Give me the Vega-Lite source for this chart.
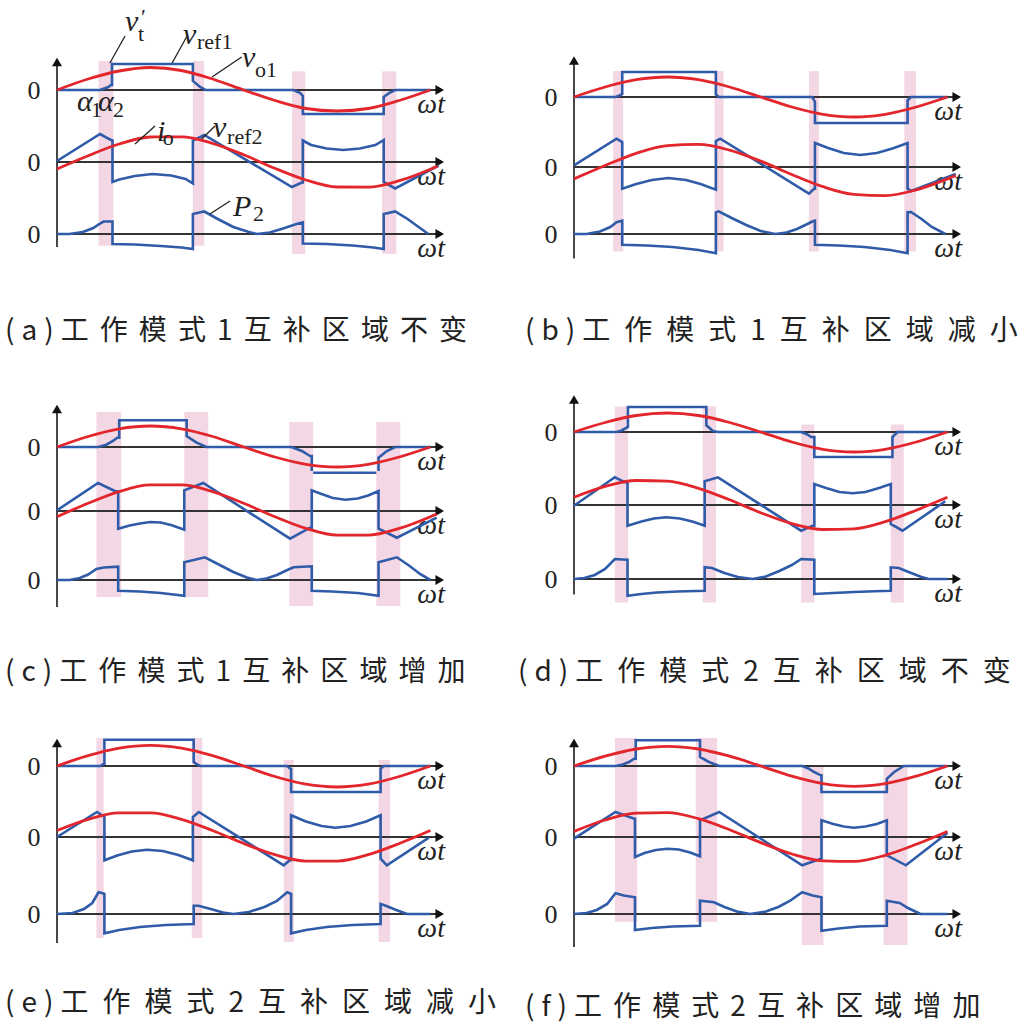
{
"$schema":"https://vega.github.io/schema/vega-lite/v6.json",
"padding":{"left":5,"top":6,"right":5,"bottom":5},
"background":"white",
"config":{"view":{"stroke":null},"axisX":{"disable":true},"axisY":{"domain":false,"ticks":false,"grid":false,"labelFont":"Liberation Serif","labelFontSize":26,"labelPadding":17,"labelColor":"#222"}},
"datasets":{
"a":[{"t":1,"k":"v","y":28,"y2":-39},{"t":2,"k":"v","y":33,"y2":-37},{"t":3,"k":"v","y":35,"y2":-13},
{"t":1,"k":"band","x":40,"x2":54.4,"y":29,"y2":-39},{"t":1,"k":"band","x":131,"x2":142,"y":29,"y2":-39},{"t":1,"k":"band","x":226.5,"x2":239.4,"y":18.7,"y2":-39},{"t":1,"k":"band","x":313.4,"x2":327.2,"y":18.7,"y2":-39},
{"t":2,"k":"band","x":40,"x2":54.4,"y":33,"y2":-37},{"t":2,"k":"band","x":131,"x2":142,"y":33,"y2":-37},{"t":2,"k":"band","x":226.5,"x2":239.4,"y":33,"y2":-37},{"t":2,"k":"band","x":313.4,"x2":327.2,"y":33,"y2":-37},
{"t":3,"k":"band","x":40,"x2":54.4,"y":35,"y2":-11.7},{"t":3,"k":"band","x":131,"x2":142,"y":35,"y2":-11.7},{"t":3,"k":"band","x":226.5,"x2":239.4,"y":35,"y2":-20},{"t":3,"k":"band","x":313.4,"x2":327.2,"y":35,"y2":-20},
{"t":1,"k":"b","x":0,"y":0},{"t":1,"k":"b","x":41.5,"y":0},{"t":1,"k":"b","x":49.5,"y":3},{"t":1,"k":"b","x":52,"y":5},{"t":1,"k":"b","x":53,"y":5},{"t":1,"k":"b","x":53,"y":26},{"t":1,"k":"b","x":131,"y":26},{"t":1,"k":"b","x":131,"y":9},{"t":1,"k":"b","x":138,"y":3},{"t":1,"k":"b","x":143,"y":0},{"t":1,"k":"b","x":228,"y":0},{"t":1,"k":"b","x":234.5,"y":-3},{"t":1,"k":"b","x":237,"y":-6},{"t":1,"k":"b","x":237,"y":-24},{"t":1,"k":"b","x":315,"y":-24},{"t":1,"k":"b","x":315,"y":-7},{"t":1,"k":"b","x":321,"y":-2.5},{"t":1,"k":"b","x":326,"y":0},{"t":1,"k":"b","x":360,"y":0},
{"t":1,"k":"r","x":0,"y":0},{"t":1,"k":"r","x":30,"y":11},{"t":1,"k":"r","x":60,"y":19},{"t":1,"k":"r","x":90,"y":22.5},{"t":1,"k":"r","x":120,"y":19.5},{"t":1,"k":"r","x":150,"y":11},{"t":1,"k":"r","x":180,"y":0},{"t":1,"k":"r","x":210,"y":-10.5},{"t":1,"k":"r","x":240,"y":-18.5},{"t":1,"k":"r","x":270,"y":-21},{"t":1,"k":"r","x":300,"y":-18.5},{"t":1,"k":"r","x":330,"y":-10.5},{"t":1,"k":"r","x":360,"y":0},
{"t":2,"k":"b","x":0,"y":1},{"t":2,"k":"b","x":41.5,"y":28},{"t":2,"k":"b","x":51,"y":22.5},{"t":2,"k":"b","x":53.5,"y":21.5},{"t":2,"k":"b","x":53.5,"y":-20},{"t":2,"k":"b","x":60,"y":-17.5},{"t":2,"k":"b","x":75,"y":-14},{"t":2,"k":"b","x":92,"y":-12},{"t":2,"k":"b","x":110,"y":-13.5},{"t":2,"k":"b","x":124,"y":-17},{"t":2,"k":"b","x":131,"y":-21.5},{"t":2,"k":"b","x":131,"y":21.5},{"t":2,"k":"b","x":142,"y":27},{"t":2,"k":"b","x":226.5,"y":-25},{"t":2,"k":"b","x":236,"y":-20.5},{"t":2,"k":"b","x":237,"y":-20.5},{"t":2,"k":"b","x":237,"y":21.5},{"t":2,"k":"b","x":245,"y":17},{"t":2,"k":"b","x":260,"y":13.5},{"t":2,"k":"b","x":276,"y":12},{"t":2,"k":"b","x":292,"y":13.5},{"t":2,"k":"b","x":307,"y":17},{"t":2,"k":"b","x":315,"y":22},{"t":2,"k":"b","x":315,"y":-20},{"t":2,"k":"b","x":326,"y":-26.5},{"t":2,"k":"b","x":368,"y":-3.5},
{"t":2,"k":"r","x":0,"y":-7},{"t":2,"k":"r","x":30,"y":6.3},{"t":2,"k":"r","x":60,"y":18},{"t":2,"k":"r","x":90,"y":25},{"t":2,"k":"r","x":120,"y":25.2},{"t":2,"k":"r","x":150,"y":18.7},{"t":2,"k":"r","x":180,"y":7.2},{"t":2,"k":"r","x":210,"y":-6.3},{"t":2,"k":"r","x":240,"y":-18},{"t":2,"k":"r","x":270,"y":-25},{"t":2,"k":"r","x":300,"y":-25.2},{"t":2,"k":"r","x":330,"y":-18.7},{"t":2,"k":"r","x":360,"y":-7.2},{"t":2,"k":"r","x":367,"y":-4},
{"t":3,"k":"b","x":0,"y":0},{"t":3,"k":"b","x":12,"y":0},{"t":3,"k":"b","x":25,"y":2},{"t":3,"k":"b","x":35,"y":6},{"t":3,"k":"b","x":41.5,"y":10.5},{"t":3,"k":"b","x":45,"y":12.5},{"t":3,"k":"b","x":53.5,"y":12.5},{"t":3,"k":"b","x":53.5,"y":-10},{"t":3,"k":"b","x":75,"y":-10.5},{"t":3,"k":"b","x":100,"y":-12},{"t":3,"k":"b","x":120,"y":-13.5},{"t":3,"k":"b","x":131,"y":-15},{"t":3,"k":"b","x":131,"y":20},{"t":3,"k":"b","x":142,"y":22.5},{"t":3,"k":"b","x":155,"y":15},{"t":3,"k":"b","x":170,"y":7},{"t":3,"k":"b","x":185,"y":2},{"t":3,"k":"b","x":193,"y":0},{"t":3,"k":"b","x":205,"y":1.5},{"t":3,"k":"b","x":218,"y":5.5},{"t":3,"k":"b","x":231,"y":10},{"t":3,"k":"b","x":237,"y":11.5},{"t":3,"k":"b","x":237,"y":-9.5},{"t":3,"k":"b","x":260,"y":-10},{"t":3,"k":"b","x":285,"y":-11.5},{"t":3,"k":"b","x":305,"y":-13.5},{"t":3,"k":"b","x":315,"y":-15},{"t":3,"k":"b","x":315,"y":20},{"t":3,"k":"b","x":326,"y":22.5},{"t":3,"k":"b","x":338,"y":15},{"t":3,"k":"b","x":350,"y":6},{"t":3,"k":"b","x":358,"y":0},
{"t":1,"k":"lab","x":65.6,"y":59,"txt":"v"},{"t":1,"k":"sub","x":78.1,"y":49,"txt":"t"},{"t":1,"k":"sub","x":81,"y":66,"txt":"′"},{"t":1,"k":"lab","x":121.5,"y":46,"txt":"v"},{"t":1,"k":"sub","x":135,"y":41,"txt":"ref1"},{"t":1,"k":"lab","x":178.4,"y":23,"txt":"v"},{"t":1,"k":"sub","x":191,"y":13,"txt":"o1"},{"t":1,"k":"lab","x":19.3,"y":-21,"txt":"α"},{"t":1,"k":"sub","x":32.8,"y":-27,"txt":"1"},{"t":1,"k":"lab","x":39.5,"y":-21,"txt":"α"},{"t":1,"k":"sub","x":54,"y":-27,"txt":"2"},
{"t":1,"k":"ld","x":51,"x2":65.6,"y":27,"y2":54},{"t":1,"k":"ld","x":111,"x2":125.4,"y":27,"y2":54},{"t":1,"k":"ld","x":149.5,"x2":178,"y":13,"y2":33},
{"t":2,"k":"lab","x":96.4,"y":21,"txt":"i"},{"t":2,"k":"sub","x":102,"y":17,"txt":"o"},{"t":2,"k":"lab","x":150.4,"y":25,"txt":"v"},{"t":2,"k":"sub","x":164,"y":18,"txt":"ref2"},
{"t":2,"k":"ld","x":75.2,"x2":94.5,"y":18,"y2":36},{"t":2,"k":"ld","x":139.5,"x2":152.3,"y":23,"y2":36},
{"t":3,"k":"lab","x":169.7,"y":18,"txt":"P"},{"t":3,"k":"sub","x":189,"y":13,"txt":"2"},{"t":3,"k":"ld","x":147.5,"x2":166.8,"y":20,"y2":33}],
"b":[{"t":1,"k":"v","y":36.5,"y2":-32},{"t":2,"k":"v","y":38,"y2":-32},{"t":3,"k":"v","y":35,"y2":-24.5},
{"t":1,"k":"band","x":37.7,"x2":47.4,"y":26,"y2":-32},{"t":1,"k":"band","x":135.5,"x2":144.2,"y":26,"y2":-32},{"t":1,"k":"band","x":226.5,"x2":236.1,"y":26,"y2":-32},{"t":1,"k":"band","x":318.4,"x2":329.7,"y":26,"y2":-32},
{"t":2,"k":"band","x":37.7,"x2":47.4,"y":38,"y2":-32},{"t":2,"k":"band","x":135.5,"x2":144.2,"y":38,"y2":-32},{"t":2,"k":"band","x":226.5,"x2":236.1,"y":38,"y2":-32},{"t":2,"k":"band","x":318.4,"x2":329.7,"y":38,"y2":-32},
{"t":3,"k":"band","x":37.7,"x2":47.4,"y":35,"y2":-17.5},{"t":3,"k":"band","x":135.5,"x2":144.2,"y":35,"y2":-17.5},{"t":3,"k":"band","x":226.5,"x2":236.1,"y":35,"y2":-17.5},{"t":3,"k":"band","x":318.4,"x2":329.7,"y":35,"y2":-17.5},
{"t":1,"k":"b","x":0,"y":0},{"t":1,"k":"b","x":40,"y":0},{"t":1,"k":"b","x":44,"y":1.5},{"t":1,"k":"b","x":46.5,"y":3},{"t":1,"k":"b","x":46.5,"y":25},{"t":1,"k":"b","x":136.8,"y":25},{"t":1,"k":"b","x":136.8,"y":2.5},{"t":1,"k":"b","x":139.5,"y":0},{"t":1,"k":"b","x":229.7,"y":0},{"t":1,"k":"b","x":231.5,"y":-3.3},{"t":1,"k":"b","x":232.3,"y":-5},{"t":1,"k":"b","x":232.3,"y":-26},{"t":1,"k":"b","x":321.6,"y":-26},{"t":1,"k":"b","x":321.6,"y":-3.3},{"t":1,"k":"b","x":325,"y":0},{"t":1,"k":"b","x":360,"y":0},
{"t":1,"k":"r","x":0,"y":0},{"t":1,"k":"r","x":30,"y":10},{"t":1,"k":"r","x":60,"y":17.3},{"t":1,"k":"r","x":90,"y":20},{"t":1,"k":"r","x":120,"y":17.3},{"t":1,"k":"r","x":150,"y":10},{"t":1,"k":"r","x":180,"y":0},{"t":1,"k":"r","x":210,"y":-10},{"t":1,"k":"r","x":240,"y":-17.3},{"t":1,"k":"r","x":270,"y":-20},{"t":1,"k":"r","x":300,"y":-17.3},{"t":1,"k":"r","x":330,"y":-10},{"t":1,"k":"r","x":360,"y":0},
{"t":2,"k":"b","x":0,"y":1.7},{"t":2,"k":"b","x":41,"y":28.3},{"t":2,"k":"b","x":46.5,"y":25},{"t":2,"k":"b","x":46.5,"y":-21.7},{"t":2,"k":"b","x":60,"y":-17},{"t":2,"k":"b","x":75,"y":-13},{"t":2,"k":"b","x":91,"y":-11},{"t":2,"k":"b","x":108,"y":-13},{"t":2,"k":"b","x":122,"y":-17},{"t":2,"k":"b","x":136.8,"y":-22.7},{"t":2,"k":"b","x":136.8,"y":26},{"t":2,"k":"b","x":141,"y":28.3},{"t":2,"k":"b","x":226.5,"y":-26.7},{"t":2,"k":"b","x":231.5,"y":-21.7},{"t":2,"k":"b","x":232.3,"y":-21.7},{"t":2,"k":"b","x":232.3,"y":24},{"t":2,"k":"b","x":245,"y":19},{"t":2,"k":"b","x":260,"y":14},{"t":2,"k":"b","x":276,"y":12},{"t":2,"k":"b","x":292,"y":14},{"t":2,"k":"b","x":307,"y":18.5},{"t":2,"k":"b","x":321.6,"y":24},{"t":2,"k":"b","x":321.6,"y":-21.7},{"t":2,"k":"b","x":325,"y":-24},{"t":2,"k":"b","x":368,"y":-7},
{"t":2,"k":"r","x":0,"y":-11.9},{"t":2,"k":"r","x":30,"y":1.5},{"t":2,"k":"r","x":60,"y":13.7},{"t":2,"k":"r","x":90,"y":21.4},{"t":2,"k":"r","x":120,"y":22.6},{"t":2,"k":"r","x":150,"y":16.9},{"t":2,"k":"r","x":180,"y":5.9},{"t":2,"k":"r","x":210,"y":-7.5},{"t":2,"k":"r","x":240,"y":-19.7},{"t":2,"k":"r","x":270,"y":-27.4},{"t":2,"k":"r","x":300,"y":-28.6},{"t":2,"k":"r","x":330,"y":-22.9},{"t":2,"k":"r","x":360,"y":-11.9},{"t":2,"k":"r","x":368,"y":-8.5},
{"t":3,"k":"b","x":0,"y":0},{"t":3,"k":"b","x":12,"y":0},{"t":3,"k":"b","x":25,"y":2.5},{"t":3,"k":"b","x":35,"y":7},{"t":3,"k":"b","x":41,"y":11.7},{"t":3,"k":"b","x":46.5,"y":13.3},{"t":3,"k":"b","x":46.5,"y":-10.7},{"t":3,"k":"b","x":70,"y":-11.5},{"t":3,"k":"b","x":95,"y":-13},{"t":3,"k":"b","x":120,"y":-16},{"t":3,"k":"b","x":136.8,"y":-19.3},{"t":3,"k":"b","x":136.8,"y":21.7},{"t":3,"k":"b","x":139.5,"y":22.7},{"t":3,"k":"b","x":152,"y":16},{"t":3,"k":"b","x":166,"y":9},{"t":3,"k":"b","x":180,"y":3},{"t":3,"k":"b","x":194,"y":0},{"t":3,"k":"b","x":205,"y":1.5},{"t":3,"k":"b","x":215,"y":5},{"t":3,"k":"b","x":225,"y":10},{"t":3,"k":"b","x":229.7,"y":12.5},{"t":3,"k":"b","x":232.3,"y":13.3},{"t":3,"k":"b","x":232.3,"y":-10.7},{"t":3,"k":"b","x":255,"y":-11.5},{"t":3,"k":"b","x":280,"y":-13},{"t":3,"k":"b","x":305,"y":-16},{"t":3,"k":"b","x":321.6,"y":-19.3},{"t":3,"k":"b","x":321.6,"y":21.7},{"t":3,"k":"b","x":325,"y":22},{"t":3,"k":"b","x":335,"y":15},{"t":3,"k":"b","x":345,"y":7},{"t":3,"k":"b","x":358,"y":0}],
"c":[{"t":1,"k":"v","y":38,"y2":-24},{"t":2,"k":"v","y":40,"y2":-33},{"t":3,"k":"v","y":36,"y2":-27},
{"t":1,"k":"band","x":38,"x2":62,"y":35,"y2":-24},{"t":1,"k":"band","x":122.7,"x2":145.8,"y":35,"y2":-24},{"t":1,"k":"band","x":224,"x2":247,"y":25,"y2":-24},{"t":1,"k":"band","x":307.8,"x2":331,"y":25,"y2":-24},
{"t":2,"k":"band","x":38,"x2":62,"y":40,"y2":-33},{"t":2,"k":"band","x":122.7,"x2":145.8,"y":40,"y2":-33},{"t":2,"k":"band","x":224,"x2":247,"y":40,"y2":-33},{"t":2,"k":"band","x":307.8,"x2":331,"y":40,"y2":-33},
{"t":3,"k":"band","x":38,"x2":62,"y":36,"y2":-17},{"t":3,"k":"band","x":122.7,"x2":145.8,"y":36,"y2":-17},{"t":3,"k":"band","x":224,"x2":247,"y":36,"y2":-26},{"t":3,"k":"band","x":307.8,"x2":331,"y":36,"y2":-26},
{"t":1,"k":"b","x":0,"y":0},{"t":1,"k":"b","x":39.6,"y":0},{"t":1,"k":"b","x":47,"y":2},{"t":1,"k":"b","x":54,"y":6},{"t":1,"k":"b","x":58,"y":9.3},{"t":1,"k":"b","x":60,"y":9.3},{"t":1,"k":"b","x":60,"y":26.7},{"t":1,"k":"b","x":125,"y":26.7},{"t":1,"k":"b","x":125,"y":11},{"t":1,"k":"b","x":134.6,"y":4.3},{"t":1,"k":"b","x":144,"y":0},{"t":1,"k":"b","x":226,"y":0},{"t":1,"k":"b","x":236,"y":-4},{"t":1,"k":"b","x":244,"y":-9},{"t":1,"k":"b","x":245.6,"y":-9},{"t":1,"k":"b","x":245.6,"y":-25.7},{"t":1,"k":"b","x":310,"y":-25.7},{"t":1,"k":"b","x":310,"y":-10.7},{"t":1,"k":"b","x":318,"y":-4},{"t":1,"k":"b","x":326,"y":0},{"t":1,"k":"b","x":360,"y":0},
{"t":1,"k":"r","x":0,"y":0},{"t":1,"k":"r","x":30,"y":10.5},{"t":1,"k":"r","x":60,"y":18.2},{"t":1,"k":"r","x":90,"y":21},{"t":1,"k":"r","x":120,"y":18.2},{"t":1,"k":"r","x":150,"y":10.5},{"t":1,"k":"r","x":180,"y":0},{"t":1,"k":"r","x":210,"y":-10},{"t":1,"k":"r","x":240,"y":-17.3},{"t":1,"k":"r","x":270,"y":-20},{"t":1,"k":"r","x":300,"y":-17.3},{"t":1,"k":"r","x":330,"y":-10},{"t":1,"k":"r","x":360,"y":0},
{"t":2,"k":"b","x":0,"y":0.7},{"t":2,"k":"b","x":39.6,"y":28},{"t":2,"k":"b","x":55.7,"y":20},{"t":2,"k":"b","x":59,"y":19.5},{"t":2,"k":"b","x":59,"y":-17.7},{"t":2,"k":"b","x":70,"y":-14.5},{"t":2,"k":"b","x":80,"y":-12.5},{"t":2,"k":"b","x":90,"y":-11},{"t":2,"k":"b","x":100,"y":-11.5},{"t":2,"k":"b","x":110,"y":-14},{"t":2,"k":"b","x":122.7,"y":-18.7},{"t":2,"k":"b","x":122.7,"y":20.7},{"t":2,"k":"b","x":141,"y":28},{"t":2,"k":"b","x":224.7,"y":-27.7},{"t":2,"k":"b","x":244,"y":-16.7},{"t":2,"k":"b","x":245.6,"y":-16.7},{"t":2,"k":"b","x":245.6,"y":20.7},{"t":2,"k":"b","x":255,"y":17},{"t":2,"k":"b","x":266,"y":13},{"t":2,"k":"b","x":278,"y":11.3},{"t":2,"k":"b","x":290,"y":12.5},{"t":2,"k":"b","x":300,"y":15.5},{"t":2,"k":"b","x":310,"y":20},{"t":2,"k":"b","x":310,"y":-17.7},{"t":2,"k":"b","x":327.7,"y":-26.7},{"t":2,"k":"b","x":366,"y":-6.7},
{"t":2,"k":"r","x":0,"y":-5.7},{"t":2,"k":"r","x":30,"y":7.7},{"t":2,"k":"r","x":60,"y":19.4},{"t":2,"k":"r","x":90,"y":26.1},{"t":2,"k":"r","x":120,"y":26.1},{"t":2,"k":"r","x":150,"y":19.4},{"t":2,"k":"r","x":180,"y":7.7},{"t":2,"k":"r","x":210,"y":-5.7},{"t":2,"k":"r","x":240,"y":-17.4},{"t":2,"k":"r","x":270,"y":-24.1},{"t":2,"k":"r","x":300,"y":-24.1},{"t":2,"k":"r","x":330,"y":-17.4},{"t":2,"k":"r","x":360,"y":-5.7},{"t":2,"k":"r","x":366,"y":-3},
{"t":3,"k":"b","x":0,"y":0},{"t":3,"k":"b","x":12,"y":0},{"t":3,"k":"b","x":22,"y":2},{"t":3,"k":"b","x":30,"y":5.5},{"t":3,"k":"b","x":38,"y":11},{"t":3,"k":"b","x":45,"y":12.5},{"t":3,"k":"b","x":59,"y":13.3},{"t":3,"k":"b","x":59,"y":-10.7},{"t":3,"k":"b","x":80,"y":-11.5},{"t":3,"k":"b","x":100,"y":-13},{"t":3,"k":"b","x":122.7,"y":-15.7},{"t":3,"k":"b","x":122.7,"y":17.7},{"t":3,"k":"b","x":142.6,"y":22.7},{"t":3,"k":"b","x":155,"y":16},{"t":3,"k":"b","x":170,"y":8},{"t":3,"k":"b","x":183,"y":2.5},{"t":3,"k":"b","x":192.5,"y":0},{"t":3,"k":"b","x":202,"y":1.5},{"t":3,"k":"b","x":212,"y":5},{"t":3,"k":"b","x":222,"y":10},{"t":3,"k":"b","x":228,"y":12.7},{"t":3,"k":"b","x":245.6,"y":13.7},{"t":3,"k":"b","x":245.6,"y":-10.7},{"t":3,"k":"b","x":265,"y":-11.5},{"t":3,"k":"b","x":290,"y":-13},{"t":3,"k":"b","x":310,"y":-15.7},{"t":3,"k":"b","x":310,"y":17.7},{"t":3,"k":"b","x":327.7,"y":22.7},{"t":3,"k":"b","x":340,"y":14},{"t":3,"k":"b","x":350,"y":6},{"t":3,"k":"b","x":360,"y":0}],
"d":[{"t":1,"k":"v","y":32.5,"y2":-39},{"t":2,"k":"v","y":34,"y2":-39},{"t":3,"k":"v","y":35,"y2":-15.5},
{"t":1,"k":"band","x":39.4,"x2":52.2,"y":25.5,"y2":-39},{"t":1,"k":"band","x":124,"x2":137,"y":25.5,"y2":-39},{"t":1,"k":"band","x":219,"x2":231.7,"y":7.5,"y2":-39},{"t":1,"k":"band","x":305.4,"x2":318,"y":7.5,"y2":-39},
{"t":2,"k":"band","x":39.4,"x2":52.2,"y":34,"y2":-39},{"t":2,"k":"band","x":124,"x2":137,"y":34,"y2":-39},{"t":2,"k":"band","x":219,"x2":231.7,"y":34,"y2":-39},{"t":2,"k":"band","x":305.4,"x2":318,"y":34,"y2":-39},
{"t":3,"k":"band","x":39.4,"x2":52.2,"y":35,"y2":-23.5},{"t":3,"k":"band","x":124,"x2":137,"y":35,"y2":-23.5},{"t":3,"k":"band","x":219,"x2":231.7,"y":35,"y2":-23.5},{"t":3,"k":"band","x":305.4,"x2":318,"y":35,"y2":-23.5},
{"t":1,"k":"b","x":0,"y":0},{"t":1,"k":"b","x":41,"y":0},{"t":1,"k":"b","x":46,"y":1.5},{"t":1,"k":"b","x":49,"y":3.3},{"t":1,"k":"b","x":52,"y":5},{"t":1,"k":"b","x":52,"y":25},{"t":1,"k":"b","x":127.6,"y":25},{"t":1,"k":"b","x":127.6,"y":6.7},{"t":1,"k":"b","x":134,"y":1},{"t":1,"k":"b","x":138.8,"y":0},{"t":1,"k":"b","x":219,"y":0},{"t":1,"k":"b","x":225,"y":-2.5},{"t":1,"k":"b","x":228.5,"y":-5},{"t":1,"k":"b","x":231.7,"y":-5},{"t":1,"k":"b","x":231.7,"y":-25},{"t":1,"k":"b","x":307,"y":-25},{"t":1,"k":"b","x":307,"y":-5},{"t":1,"k":"b","x":312,"y":0},{"t":1,"k":"b","x":360,"y":0},
{"t":1,"k":"r","x":0,"y":0},{"t":1,"k":"r","x":30,"y":9.5},{"t":1,"k":"r","x":60,"y":16.5},{"t":1,"k":"r","x":90,"y":19},{"t":1,"k":"r","x":120,"y":16.5},{"t":1,"k":"r","x":150,"y":9.5},{"t":1,"k":"r","x":180,"y":0},{"t":1,"k":"r","x":210,"y":-10},{"t":1,"k":"r","x":240,"y":-17.3},{"t":1,"k":"r","x":270,"y":-20},{"t":1,"k":"r","x":300,"y":-17.3},{"t":1,"k":"r","x":330,"y":-10},{"t":1,"k":"r","x":360,"y":0},
{"t":2,"k":"b","x":0,"y":-0.7},{"t":2,"k":"b","x":39.4,"y":27.7},{"t":2,"k":"b","x":47.4,"y":23.7},{"t":2,"k":"b","x":51.6,"y":22},{"t":2,"k":"b","x":51.6,"y":-20.7},{"t":2,"k":"b","x":65,"y":-16.5},{"t":2,"k":"b","x":77,"y":-13.5},{"t":2,"k":"b","x":89,"y":-12.3},{"t":2,"k":"b","x":102,"y":-13.5},{"t":2,"k":"b","x":114,"y":-16.5},{"t":2,"k":"b","x":126,"y":-20.7},{"t":2,"k":"b","x":126,"y":23.7},{"t":2,"k":"b","x":138.8,"y":27.7},{"t":2,"k":"b","x":219,"y":-25.7},{"t":2,"k":"b","x":230,"y":-20.7},{"t":2,"k":"b","x":231.7,"y":-20.7},{"t":2,"k":"b","x":231.7,"y":21},{"t":2,"k":"b","x":243,"y":17},{"t":2,"k":"b","x":256,"y":13},{"t":2,"k":"b","x":268.6,"y":11.7},{"t":2,"k":"b","x":281,"y":13},{"t":2,"k":"b","x":294,"y":17},{"t":2,"k":"b","x":305.4,"y":21},{"t":2,"k":"b","x":305.4,"y":-19},{"t":2,"k":"b","x":316.7,"y":-25.7},{"t":2,"k":"b","x":358,"y":3.7},
{"t":2,"k":"r","x":0,"y":7.7},{"t":2,"k":"r","x":30,"y":18.6},{"t":2,"k":"r","x":60,"y":24.5},{"t":2,"k":"r","x":90,"y":23.8},{"t":2,"k":"r","x":120,"y":16.7},{"t":2,"k":"r","x":150,"y":5.2},{"t":2,"k":"r","x":180,"y":-7.7},{"t":2,"k":"r","x":210,"y":-18.6},{"t":2,"k":"r","x":240,"y":-24.5},{"t":2,"k":"r","x":270,"y":-23.8},{"t":2,"k":"r","x":300,"y":-16.7},{"t":2,"k":"r","x":330,"y":-5.2},{"t":2,"k":"r","x":360,"y":7.7},
{"t":3,"k":"b","x":0,"y":0},{"t":3,"k":"b","x":10,"y":1},{"t":3,"k":"b","x":20,"y":4},{"t":3,"k":"b","x":30,"y":10},{"t":3,"k":"b","x":39.4,"y":20},{"t":3,"k":"b","x":47,"y":19.5},{"t":3,"k":"b","x":51.6,"y":19.3},{"t":3,"k":"b","x":51.6,"y":-16.7},{"t":3,"k":"b","x":65,"y":-15},{"t":3,"k":"b","x":80,"y":-13.5},{"t":3,"k":"b","x":100,"y":-12.5},{"t":3,"k":"b","x":126,"y":-11.7},{"t":3,"k":"b","x":126,"y":11.7},{"t":3,"k":"b","x":133,"y":11},{"t":3,"k":"b","x":145,"y":6},{"t":3,"k":"b","x":158,"y":2},{"t":3,"k":"b","x":172.4,"y":0},{"t":3,"k":"b","x":185,"y":2.5},{"t":3,"k":"b","x":198,"y":8},{"t":3,"k":"b","x":210,"y":14},{"t":3,"k":"b","x":219,"y":20},{"t":3,"k":"b","x":228,"y":19.5},{"t":3,"k":"b","x":231.7,"y":19.3},{"t":3,"k":"b","x":231.7,"y":-15},{"t":3,"k":"b","x":250,"y":-14},{"t":3,"k":"b","x":270,"y":-13},{"t":3,"k":"b","x":290,"y":-12.2},{"t":3,"k":"b","x":305.4,"y":-11.7},{"t":3,"k":"b","x":305.4,"y":11.7},{"t":3,"k":"b","x":313,"y":11},{"t":3,"k":"b","x":325,"y":6},{"t":3,"k":"b","x":335,"y":2},{"t":3,"k":"b","x":342,"y":0},{"t":3,"k":"b","x":360,"y":0}],
"e":[{"t":1,"k":"v","y":23,"y2":-35},{"t":2,"k":"v","y":36,"y2":-38},{"t":3,"k":"v","y":39,"y2":-29},
{"t":1,"k":"band","x":38,"x2":45,"y":28,"y2":-35},{"t":1,"k":"band","x":130,"x2":140,"y":28,"y2":-35},{"t":1,"k":"band","x":218.6,"x2":228.3,"y":6,"y2":-35},{"t":1,"k":"band","x":310,"x2":321,"y":6,"y2":-35},
{"t":2,"k":"band","x":38,"x2":45,"y":36,"y2":-38},{"t":2,"k":"band","x":130,"x2":140,"y":36,"y2":-38},{"t":2,"k":"band","x":218.6,"x2":228.3,"y":36,"y2":-38},{"t":2,"k":"band","x":310,"x2":321,"y":36,"y2":-38},
{"t":3,"k":"band","x":38,"x2":45,"y":39,"y2":-24},{"t":3,"k":"band","x":130,"x2":140,"y":39,"y2":-24},{"t":3,"k":"band","x":218.6,"x2":228.3,"y":39,"y2":-28},{"t":3,"k":"band","x":310,"x2":321,"y":39,"y2":-28},
{"t":1,"k":"b","x":0,"y":0},{"t":1,"k":"b","x":41.8,"y":0},{"t":1,"k":"b","x":44,"y":1.5},{"t":1,"k":"b","x":45.7,"y":2},{"t":1,"k":"b","x":45.7,"y":26.3},{"t":1,"k":"b","x":131.8,"y":26.3},{"t":1,"k":"b","x":131.8,"y":4},{"t":1,"k":"b","x":135,"y":1.5},{"t":1,"k":"b","x":138,"y":0},{"t":1,"k":"b","x":221.9,"y":0},{"t":1,"k":"b","x":224.5,"y":-2.5},{"t":1,"k":"b","x":225.7,"y":-3},{"t":1,"k":"b","x":225.7,"y":-26},{"t":1,"k":"b","x":312,"y":-26},{"t":1,"k":"b","x":312,"y":-2.7},{"t":1,"k":"b","x":315,"y":0},{"t":1,"k":"b","x":360,"y":0},
{"t":1,"k":"r","x":0,"y":0},{"t":1,"k":"r","x":30,"y":10.3},{"t":1,"k":"r","x":60,"y":17.9},{"t":1,"k":"r","x":90,"y":20.7},{"t":1,"k":"r","x":120,"y":17.9},{"t":1,"k":"r","x":150,"y":10.3},{"t":1,"k":"r","x":180,"y":0},{"t":1,"k":"r","x":210,"y":-10.5},{"t":1,"k":"r","x":240,"y":-18.2},{"t":1,"k":"r","x":270,"y":-21},{"t":1,"k":"r","x":300,"y":-18.2},{"t":1,"k":"r","x":330,"y":-10.5},{"t":1,"k":"r","x":360,"y":0},
{"t":2,"k":"b","x":0,"y":0},{"t":2,"k":"b","x":38.6,"y":25},{"t":2,"k":"b","x":43.4,"y":21.7},{"t":2,"k":"b","x":45.7,"y":20.5},{"t":2,"k":"b","x":45.7,"y":-23.3},{"t":2,"k":"b","x":58,"y":-18.5},{"t":2,"k":"b","x":72,"y":-14.5},{"t":2,"k":"b","x":86.8,"y":-12.7},{"t":2,"k":"b","x":102,"y":-14},{"t":2,"k":"b","x":117,"y":-18},{"t":2,"k":"b","x":131,"y":-23.3},{"t":2,"k":"b","x":131,"y":20},{"t":2,"k":"b","x":136.7,"y":25},{"t":2,"k":"b","x":218.6,"y":-28.3},{"t":2,"k":"b","x":224.4,"y":-23.3},{"t":2,"k":"b","x":225.7,"y":-23.3},{"t":2,"k":"b","x":225.7,"y":21.7},{"t":2,"k":"b","x":240,"y":15.5},{"t":2,"k":"b","x":255,"y":11},{"t":2,"k":"b","x":268.5,"y":9.3},{"t":2,"k":"b","x":283,"y":11},{"t":2,"k":"b","x":298,"y":15.5},{"t":2,"k":"b","x":312,"y":21.7},{"t":2,"k":"b","x":312,"y":-21.7},{"t":2,"k":"b","x":318,"y":-28.3},{"t":2,"k":"b","x":358.5,"y":-0.7},
{"t":2,"k":"r","x":0,"y":6.5},{"t":2,"k":"r","x":30,"y":17.7},{"t":2,"k":"r","x":60,"y":24.1},{"t":2,"k":"r","x":90,"y":24.1},{"t":2,"k":"r","x":120,"y":17.7},{"t":2,"k":"r","x":150,"y":6.5},{"t":2,"k":"r","x":180,"y":-6.5},{"t":2,"k":"r","x":210,"y":-17.7},{"t":2,"k":"r","x":240,"y":-24.1},{"t":2,"k":"r","x":270,"y":-24.1},{"t":2,"k":"r","x":300,"y":-17.7},{"t":2,"k":"r","x":330,"y":-6.5},{"t":2,"k":"r","x":360,"y":6.5},
{"t":3,"k":"b","x":0,"y":0},{"t":3,"k":"b","x":15,"y":1},{"t":3,"k":"b","x":26,"y":5},{"t":3,"k":"b","x":34,"y":11},{"t":3,"k":"b","x":40,"y":21.7},{"t":3,"k":"b","x":45,"y":20.5},{"t":3,"k":"b","x":45.7,"y":20},{"t":3,"k":"b","x":45.7,"y":-19.3},{"t":3,"k":"b","x":60,"y":-16},{"t":3,"k":"b","x":80,"y":-13},{"t":3,"k":"b","x":105,"y":-11},{"t":3,"k":"b","x":131.8,"y":-10},{"t":3,"k":"b","x":131.8,"y":8.3},{"t":3,"k":"b","x":136.5,"y":8.3},{"t":3,"k":"b","x":150,"y":4.5},{"t":3,"k":"b","x":160,"y":1.5},{"t":3,"k":"b","x":170,"y":0},{"t":3,"k":"b","x":185,"y":2},{"t":3,"k":"b","x":200,"y":7},{"t":3,"k":"b","x":212,"y":13},{"t":3,"k":"b","x":221.9,"y":21.7},{"t":3,"k":"b","x":225,"y":20.5},{"t":3,"k":"b","x":225.7,"y":20},{"t":3,"k":"b","x":225.7,"y":-19.3},{"t":3,"k":"b","x":240,"y":-16},{"t":3,"k":"b","x":260,"y":-13},{"t":3,"k":"b","x":285,"y":-11},{"t":3,"k":"b","x":312,"y":-10},{"t":3,"k":"b","x":312,"y":10},{"t":3,"k":"b","x":317,"y":8.3},{"t":3,"k":"b","x":327,"y":4},{"t":3,"k":"b","x":337.6,"y":0},{"t":3,"k":"b","x":360,"y":0}],
"f":[{"t":1,"k":"v","y":23,"y2":-35},{"t":2,"k":"v","y":36,"y2":-38},{"t":3,"k":"v","y":39,"y2":-33},
{"t":1,"k":"band","x":39.5,"x2":61,"y":28,"y2":-35},{"t":1,"k":"band","x":117.4,"x2":138,"y":28,"y2":-35},{"t":1,"k":"band","x":219.6,"x2":240.5,"y":1,"y2":-35},{"t":1,"k":"band","x":298.4,"x2":321.5,"y":1,"y2":-35},
{"t":2,"k":"band","x":39.5,"x2":61,"y":36,"y2":-38},{"t":2,"k":"band","x":117.4,"x2":138,"y":36,"y2":-38},{"t":2,"k":"band","x":219.6,"x2":240.5,"y":36,"y2":-38},{"t":2,"k":"band","x":298.4,"x2":321.5,"y":36,"y2":-38},
{"t":3,"k":"band","x":39.5,"x2":61,"y":39,"y2":-7.7},{"t":3,"k":"band","x":117.4,"x2":138,"y":39,"y2":-7.7},{"t":3,"k":"band","x":219.6,"x2":240.5,"y":39,"y2":-31},{"t":3,"k":"band","x":298.4,"x2":321.5,"y":39,"y2":-31},
{"t":1,"k":"b","x":0,"y":0},{"t":1,"k":"b","x":40,"y":0},{"t":1,"k":"b","x":47,"y":1.5},{"t":1,"k":"b","x":53,"y":4},{"t":1,"k":"b","x":58,"y":7.3},{"t":1,"k":"b","x":59.5,"y":7.3},{"t":1,"k":"b","x":59.5,"y":25.7},{"t":1,"k":"b","x":121.5,"y":25.7},{"t":1,"k":"b","x":121.5,"y":9},{"t":1,"k":"b","x":130,"y":4},{"t":1,"k":"b","x":140,"y":0},{"t":1,"k":"b","x":220,"y":0},{"t":1,"k":"b","x":226,"y":-2.5},{"t":1,"k":"b","x":231.5,"y":-6},{"t":1,"k":"b","x":238,"y":-9.3},{"t":1,"k":"b","x":238.6,"y":-9.3},{"t":1,"k":"b","x":238.6,"y":-26},{"t":1,"k":"b","x":301.6,"y":-26},{"t":1,"k":"b","x":301.6,"y":-12.7},{"t":1,"k":"b","x":308.7,"y":-6},{"t":1,"k":"b","x":318,"y":0},{"t":1,"k":"b","x":360,"y":0},
{"t":1,"k":"r","x":0,"y":0},{"t":1,"k":"r","x":30,"y":9.8},{"t":1,"k":"r","x":60,"y":17},{"t":1,"k":"r","x":90,"y":19.7},{"t":1,"k":"r","x":120,"y":17},{"t":1,"k":"r","x":150,"y":9.8},{"t":1,"k":"r","x":180,"y":0},{"t":1,"k":"r","x":210,"y":-10.2},{"t":1,"k":"r","x":240,"y":-17.6},{"t":1,"k":"r","x":270,"y":-20.3},{"t":1,"k":"r","x":300,"y":-17.6},{"t":1,"k":"r","x":330,"y":-10.2},{"t":1,"k":"r","x":360,"y":0},
{"t":2,"k":"b","x":0,"y":-1.7},{"t":2,"k":"b","x":40,"y":25},{"t":2,"k":"b","x":58,"y":18.3},{"t":2,"k":"b","x":58.8,"y":18.3},{"t":2,"k":"b","x":58.8,"y":-20},{"t":2,"k":"b","x":68,"y":-16},{"t":2,"k":"b","x":79,"y":-13},{"t":2,"k":"b","x":90,"y":-11.7},{"t":2,"k":"b","x":101,"y":-12.5},{"t":2,"k":"b","x":112,"y":-15.5},{"t":2,"k":"b","x":121.5,"y":-19.3},{"t":2,"k":"b","x":121.5,"y":16.7},{"t":2,"k":"b","x":140,"y":25},{"t":2,"k":"b","x":220,"y":-28.3},{"t":2,"k":"b","x":238,"y":-21.7},{"t":2,"k":"b","x":238.6,"y":-21.7},{"t":2,"k":"b","x":238.6,"y":16.7},{"t":2,"k":"b","x":250,"y":13},{"t":2,"k":"b","x":260,"y":10.5},{"t":2,"k":"b","x":270,"y":9.3},{"t":2,"k":"b","x":281,"y":10.5},{"t":2,"k":"b","x":292,"y":13},{"t":2,"k":"b","x":301.6,"y":16.7},{"t":2,"k":"b","x":301.6,"y":-18.3},{"t":2,"k":"b","x":320,"y":-28.3},{"t":2,"k":"b","x":360,"y":4},
{"t":2,"k":"r","x":0,"y":5.6},{"t":2,"k":"r","x":30,"y":17},{"t":2,"k":"r","x":60,"y":23.9},{"t":2,"k":"r","x":90,"y":24.4},{"t":2,"k":"r","x":120,"y":18.3},{"t":2,"k":"r","x":150,"y":7.3},{"t":2,"k":"r","x":180,"y":-5.6},{"t":2,"k":"r","x":210,"y":-17},{"t":2,"k":"r","x":240,"y":-23.9},{"t":2,"k":"r","x":270,"y":-24.4},{"t":2,"k":"r","x":300,"y":-18.3},{"t":2,"k":"r","x":330,"y":-7.3},{"t":2,"k":"r","x":360,"y":5.6},
{"t":3,"k":"b","x":0,"y":0},{"t":3,"k":"b","x":12,"y":1},{"t":3,"k":"b","x":22,"y":4},{"t":3,"k":"b","x":32,"y":10},{"t":3,"k":"b","x":40,"y":20.7},{"t":3,"k":"b","x":48,"y":18.5},{"t":3,"k":"b","x":58.8,"y":16.7},{"t":3,"k":"b","x":58.8,"y":-16},{"t":3,"k":"b","x":75,"y":-14},{"t":3,"k":"b","x":95,"y":-12.5},{"t":3,"k":"b","x":121.5,"y":-11.7},{"t":3,"k":"b","x":121.5,"y":13.3},{"t":3,"k":"b","x":135,"y":11.7},{"t":3,"k":"b","x":145,"y":7},{"t":3,"k":"b","x":157,"y":2.5},{"t":3,"k":"b","x":170,"y":0},{"t":3,"k":"b","x":185,"y":2.5},{"t":3,"k":"b","x":197,"y":7},{"t":3,"k":"b","x":208,"y":13},{"t":3,"k":"b","x":220,"y":21.7},{"t":3,"k":"b","x":230,"y":18.5},{"t":3,"k":"b","x":238.6,"y":16.7},{"t":3,"k":"b","x":238.6,"y":-16.7},{"t":3,"k":"b","x":255,"y":-14.5},{"t":3,"k":"b","x":275,"y":-12.5},{"t":3,"k":"b","x":301.6,"y":-11.7},{"t":3,"k":"b","x":301.6,"y":13.3},{"t":3,"k":"b","x":314,"y":11},{"t":3,"k":"b","x":322,"y":6},{"t":3,"k":"b","x":330,"y":2},{"t":3,"k":"b","x":334,"y":0},{"t":3,"k":"b","x":360,"y":0}]
},
"columns":2,
"align":"each",
"spacing":{"row":0,"column":127},
"bounds":"flush",
"concat":[
{"width":390,"height":75,"data":{"name":"a"},"transform":[{"filter":"datum.t===1"}],"layer":[
{"transform":[{"filter":"datum.k==='band'"}],"mark":{"type":"rect","color":"#f3d7e5"},"encoding":{"x":{"field":"x","type":"quantitative","scale":{"domain":[0,376],"nice":false,"zero":false}},"x2":{"field":"x2"},"y":{"field":"y","type":"quantitative","scale":{"domain":[-39,36],"nice":false,"zero":false},"axis":{"values":[0]},"title":null},"y2":{"field":"y2"}}},
{"transform":[{"filter":"datum.k==='v'"}],"mark":{"type":"rule","color":"#333","strokeWidth":1.8},"encoding":{"x":{"datum":0,"type":"quantitative"},"x2":{"datum":369},"y":{"datum":0,"type":"quantitative","title":null}}},
{"transform":[{"filter":"datum.k==='v'"}],"mark":{"type":"rule","color":"#333","strokeWidth":1.8},"encoding":{"x":{"datum":0,"type":"quantitative"},"y":{"field":"y","type":"quantitative","title":null},"y2":{"field":"y2"}}},
{"transform":[{"filter":"datum.k==='v'"}],"mark":{"type":"point","shape":"triangle-right","filled":true,"color":"#111","size":100,"opacity":1},"encoding":{"x":{"datum":369,"type":"quantitative"},"y":{"datum":0,"type":"quantitative","title":null}}},
{"transform":[{"filter":"datum.k==='v'"}],"mark":{"type":"point","shape":"triangle-up","filled":true,"color":"#111","size":100,"opacity":1},"encoding":{"x":{"datum":0,"type":"quantitative"},"y":{"field":"y","type":"quantitative","title":null}}},
{"transform":[{"filter":"datum.k==='v'"}],"mark":{"type":"text","text":"ωt","font":"Liberation Serif","fontStyle":"italic","fontSize":28,"align":"right","baseline":"alphabetic","color":"#222"},"encoding":{"x":{"datum":374,"type":"quantitative"},"y":{"datum":-23,"type":"quantitative","title":null}}},
{"transform":[{"filter":"datum.k==='b'"}],"mark":{"type":"line","color":"#2f5ba8","strokeWidth":2.6},"encoding":{"x":{"field":"x","type":"quantitative"},"y":{"field":"y","type":"quantitative","title":null},"order":{"value":null}}},
{"transform":[{"filter":"datum.k==='r'"}],"mark":{"type":"line","color":"#e2262c","strokeWidth":2.8,"interpolate":"monotone"},"encoding":{"x":{"field":"x","type":"quantitative"},"y":{"field":"y","type":"quantitative","title":null},"order":{"value":null}}},
{"transform":[{"filter":"datum.k==='ld'"}],"mark":{"type":"rule","color":"#222","strokeWidth":1.3},"encoding":{"x":{"field":"x","type":"quantitative"},"x2":{"field":"x2"},"y":{"field":"y","type":"quantitative","title":null},"y2":{"field":"y2"}}},
{"transform":[{"filter":"datum.k==='lab'"}],"mark":{"type":"text","font":"Liberation Serif","fontStyle":"italic","fontSize":30,"align":"left","baseline":"alphabetic","color":"#222"},"encoding":{"x":{"field":"x","type":"quantitative"},"y":{"field":"y","type":"quantitative","title":null},"text":{"field":"txt"}}},
{"transform":[{"filter":"datum.k==='sub'"}],"mark":{"type":"text","font":"Liberation Serif","fontSize":22,"align":"left","baseline":"alphabetic","color":"#222"},"encoding":{"x":{"field":"x","type":"quantitative"},"y":{"field":"y","type":"quantitative","title":null},"text":{"field":"txt"}}}
]},
{"width":390,"height":75,"data":{"name":"b"},"transform":[{"filter":"datum.t===1"}],"layer":[
{"transform":[{"filter":"datum.k==='band'"}],"mark":{"type":"rect","color":"#f3d7e5"},"encoding":{"x":{"field":"x","type":"quantitative","scale":{"domain":[0,376],"nice":false,"zero":false}},"x2":{"field":"x2"},"y":{"field":"y","type":"quantitative","scale":{"domain":[-32,43],"nice":false,"zero":false},"axis":{"values":[0]},"title":null},"y2":{"field":"y2"}}},
{"transform":[{"filter":"datum.k==='v'"}],"mark":{"type":"rule","color":"#333","strokeWidth":1.8},"encoding":{"x":{"datum":0,"type":"quantitative"},"x2":{"datum":369},"y":{"datum":0,"type":"quantitative","title":null}}},
{"transform":[{"filter":"datum.k==='v'"}],"mark":{"type":"rule","color":"#333","strokeWidth":1.8},"encoding":{"x":{"datum":0,"type":"quantitative"},"y":{"field":"y","type":"quantitative","title":null},"y2":{"field":"y2"}}},
{"transform":[{"filter":"datum.k==='v'"}],"mark":{"type":"point","shape":"triangle-right","filled":true,"color":"#111","size":100,"opacity":1},"encoding":{"x":{"datum":369,"type":"quantitative"},"y":{"datum":0,"type":"quantitative","title":null}}},
{"transform":[{"filter":"datum.k==='v'"}],"mark":{"type":"point","shape":"triangle-up","filled":true,"color":"#111","size":100,"opacity":1},"encoding":{"x":{"datum":0,"type":"quantitative"},"y":{"field":"y","type":"quantitative","title":null}}},
{"transform":[{"filter":"datum.k==='v'"}],"mark":{"type":"text","text":"ωt","font":"Liberation Serif","fontStyle":"italic","fontSize":28,"align":"right","baseline":"alphabetic","color":"#222"},"encoding":{"x":{"datum":374,"type":"quantitative"},"y":{"datum":-23,"type":"quantitative","title":null}}},
{"transform":[{"filter":"datum.k==='b'"}],"mark":{"type":"line","color":"#2f5ba8","strokeWidth":2.6},"encoding":{"x":{"field":"x","type":"quantitative"},"y":{"field":"y","type":"quantitative","title":null},"order":{"value":null}}},
{"transform":[{"filter":"datum.k==='r'"}],"mark":{"type":"line","color":"#e2262c","strokeWidth":2.8,"interpolate":"monotone"},"encoding":{"x":{"field":"x","type":"quantitative"},"y":{"field":"y","type":"quantitative","title":null},"order":{"value":null}}}
]},
{"width":390,"height":70,"data":{"name":"a"},"transform":[{"filter":"datum.t===2"}],"layer":[
{"transform":[{"filter":"datum.k==='band'"}],"mark":{"type":"rect","color":"#f3d7e5"},"encoding":{"x":{"field":"x","type":"quantitative","scale":{"domain":[0,376],"nice":false,"zero":false}},"x2":{"field":"x2"},"y":{"field":"y","type":"quantitative","scale":{"domain":[-37,33],"nice":false,"zero":false},"axis":{"values":[0]},"title":null},"y2":{"field":"y2"}}},
{"transform":[{"filter":"datum.k==='v'"}],"mark":{"type":"rule","color":"#333","strokeWidth":1.8},"encoding":{"x":{"datum":0,"type":"quantitative"},"x2":{"datum":369},"y":{"datum":0,"type":"quantitative","title":null}}},
{"transform":[{"filter":"datum.k==='v'"}],"mark":{"type":"rule","color":"#333","strokeWidth":1.8},"encoding":{"x":{"datum":0,"type":"quantitative"},"y":{"field":"y","type":"quantitative","title":null},"y2":{"field":"y2"}}},
{"transform":[{"filter":"datum.k==='v'"}],"mark":{"type":"point","shape":"triangle-right","filled":true,"color":"#111","size":100,"opacity":1},"encoding":{"x":{"datum":369,"type":"quantitative"},"y":{"datum":0,"type":"quantitative","title":null}}},
{"transform":[{"filter":"datum.k==='v'"}],"mark":{"type":"text","text":"ωt","font":"Liberation Serif","fontStyle":"italic","fontSize":28,"align":"right","baseline":"alphabetic","color":"#222"},"encoding":{"x":{"datum":374,"type":"quantitative"},"y":{"datum":-23,"type":"quantitative","title":null}}},
{"transform":[{"filter":"datum.k==='b'"}],"mark":{"type":"line","color":"#2f5ba8","strokeWidth":2.6},"encoding":{"x":{"field":"x","type":"quantitative"},"y":{"field":"y","type":"quantitative","title":null},"order":{"value":null}}},
{"transform":[{"filter":"datum.k==='r'"}],"mark":{"type":"line","color":"#e2262c","strokeWidth":2.8,"interpolate":"monotone"},"encoding":{"x":{"field":"x","type":"quantitative"},"y":{"field":"y","type":"quantitative","title":null},"order":{"value":null}}},
{"transform":[{"filter":"datum.k==='ld'"}],"mark":{"type":"rule","color":"#222","strokeWidth":1.3},"encoding":{"x":{"field":"x","type":"quantitative"},"x2":{"field":"x2"},"y":{"field":"y","type":"quantitative","title":null},"y2":{"field":"y2"}}},
{"transform":[{"filter":"datum.k==='lab'"}],"mark":{"type":"text","font":"Liberation Serif","fontStyle":"italic","fontSize":30,"align":"left","baseline":"alphabetic","color":"#222"},"encoding":{"x":{"field":"x","type":"quantitative"},"y":{"field":"y","type":"quantitative","title":null},"text":{"field":"txt"}}},
{"transform":[{"filter":"datum.k==='sub'"}],"mark":{"type":"text","font":"Liberation Serif","fontSize":22,"align":"left","baseline":"alphabetic","color":"#222"},"encoding":{"x":{"field":"x","type":"quantitative"},"y":{"field":"y","type":"quantitative","title":null},"text":{"field":"txt"}}}
]},
{"width":390,"height":70,"data":{"name":"b"},"transform":[{"filter":"datum.t===2"}],"layer":[
{"transform":[{"filter":"datum.k==='band'"}],"mark":{"type":"rect","color":"#f3d7e5"},"encoding":{"x":{"field":"x","type":"quantitative","scale":{"domain":[0,376],"nice":false,"zero":false}},"x2":{"field":"x2"},"y":{"field":"y","type":"quantitative","scale":{"domain":[-32,38],"nice":false,"zero":false},"axis":{"values":[0]},"title":null},"y2":{"field":"y2"}}},
{"transform":[{"filter":"datum.k==='v'"}],"mark":{"type":"rule","color":"#333","strokeWidth":1.8},"encoding":{"x":{"datum":0,"type":"quantitative"},"x2":{"datum":369},"y":{"datum":0,"type":"quantitative","title":null}}},
{"transform":[{"filter":"datum.k==='v'"}],"mark":{"type":"rule","color":"#333","strokeWidth":1.8},"encoding":{"x":{"datum":0,"type":"quantitative"},"y":{"field":"y","type":"quantitative","title":null},"y2":{"field":"y2"}}},
{"transform":[{"filter":"datum.k==='v'"}],"mark":{"type":"point","shape":"triangle-right","filled":true,"color":"#111","size":100,"opacity":1},"encoding":{"x":{"datum":369,"type":"quantitative"},"y":{"datum":0,"type":"quantitative","title":null}}},
{"transform":[{"filter":"datum.k==='v'"}],"mark":{"type":"text","text":"ωt","font":"Liberation Serif","fontStyle":"italic","fontSize":28,"align":"right","baseline":"alphabetic","color":"#222"},"encoding":{"x":{"datum":374,"type":"quantitative"},"y":{"datum":-23,"type":"quantitative","title":null}}},
{"transform":[{"filter":"datum.k==='b'"}],"mark":{"type":"line","color":"#2f5ba8","strokeWidth":2.6},"encoding":{"x":{"field":"x","type":"quantitative"},"y":{"field":"y","type":"quantitative","title":null},"order":{"value":null}}},
{"transform":[{"filter":"datum.k==='r'"}],"mark":{"type":"line","color":"#e2262c","strokeWidth":2.8,"interpolate":"monotone"},"encoding":{"x":{"field":"x","type":"quantitative"},"y":{"field":"y","type":"quantitative","title":null},"order":{"value":null}}}
]},
{"width":390,"height":62,"data":{"name":"a"},"transform":[{"filter":"datum.t===3"}],
"title":{"text":"(\u2005a\u2005)\u2005工\u2004\u200a作\u2004\u200a模\u2004\u200a式\u2004\u200a1\u2004\u200a互\u2004\u200a补\u2004\u200a区\u2004\u200a域\u2004\u200a不\u2004\u200a变","orient":"bottom","anchor":"start","frame":"group","offset":55,"dx":-52,"font":"Noto Sans CJK SC","fontSize":28,"fontWeight":"normal","color":"#222"},
"layer":[
{"transform":[{"filter":"datum.k==='band'"}],"mark":{"type":"rect","color":"#f3d7e5"},"encoding":{"x":{"field":"x","type":"quantitative","scale":{"domain":[0,376],"nice":false,"zero":false}},"x2":{"field":"x2"},"y":{"field":"y","type":"quantitative","scale":{"domain":[-27,35],"nice":false,"zero":false},"axis":{"values":[0]},"title":null},"y2":{"field":"y2"}}},
{"transform":[{"filter":"datum.k==='v'"}],"mark":{"type":"rule","color":"#333","strokeWidth":1.8},"encoding":{"x":{"datum":0,"type":"quantitative"},"x2":{"datum":369},"y":{"datum":0,"type":"quantitative","title":null}}},
{"transform":[{"filter":"datum.k==='v'"}],"mark":{"type":"rule","color":"#333","strokeWidth":1.8},"encoding":{"x":{"datum":0,"type":"quantitative"},"y":{"field":"y","type":"quantitative","title":null},"y2":{"field":"y2"}}},
{"transform":[{"filter":"datum.k==='v'"}],"mark":{"type":"point","shape":"triangle-right","filled":true,"color":"#111","size":100,"opacity":1},"encoding":{"x":{"datum":369,"type":"quantitative"},"y":{"datum":0,"type":"quantitative","title":null}}},
{"transform":[{"filter":"datum.k==='v'"}],"mark":{"type":"text","text":"ωt","font":"Liberation Serif","fontStyle":"italic","fontSize":28,"align":"right","baseline":"alphabetic","color":"#222"},"encoding":{"x":{"datum":374,"type":"quantitative"},"y":{"datum":-23,"type":"quantitative","title":null}}},
{"transform":[{"filter":"datum.k==='b'"}],"mark":{"type":"line","color":"#2f5ba8","strokeWidth":2.6},"encoding":{"x":{"field":"x","type":"quantitative"},"y":{"field":"y","type":"quantitative","title":null},"order":{"value":null}}},
{"transform":[{"filter":"datum.k==='ld'"}],"mark":{"type":"rule","color":"#222","strokeWidth":1.3},"encoding":{"x":{"field":"x","type":"quantitative"},"x2":{"field":"x2"},"y":{"field":"y","type":"quantitative","title":null},"y2":{"field":"y2"}}},
{"transform":[{"filter":"datum.k==='lab'"}],"mark":{"type":"text","font":"Liberation Serif","fontStyle":"italic","fontSize":30,"align":"left","baseline":"alphabetic","color":"#222"},"encoding":{"x":{"field":"x","type":"quantitative"},"y":{"field":"y","type":"quantitative","title":null},"text":{"field":"txt"}}},
{"transform":[{"filter":"datum.k==='sub'"}],"mark":{"type":"text","font":"Liberation Serif","fontSize":22,"align":"left","baseline":"alphabetic","color":"#222"},"encoding":{"x":{"field":"x","type":"quantitative"},"y":{"field":"y","type":"quantitative","title":null},"text":{"field":"txt"}}}
]},
{"width":390,"height":62,"data":{"name":"b"},"transform":[{"filter":"datum.t===3"}],
"title":{"text":"(\u2005b\u2005)\u2005工\u2004\u2006作\u2004\u2006模\u2004\u2006式\u2004\u20061\u2004\u2006互\u2004\u2006补\u2004\u2006区\u2004\u2006域\u2004\u2006减\u2004\u2006小","orient":"bottom","anchor":"start","frame":"group","offset":55,"dx":-49,"font":"Noto Sans CJK SC","fontSize":28,"fontWeight":"normal","color":"#222"},
"layer":[
{"transform":[{"filter":"datum.k==='band'"}],"mark":{"type":"rect","color":"#f3d7e5"},"encoding":{"x":{"field":"x","type":"quantitative","scale":{"domain":[0,376],"nice":false,"zero":false}},"x2":{"field":"x2"},"y":{"field":"y","type":"quantitative","scale":{"domain":[-27,35],"nice":false,"zero":false},"axis":{"values":[0]},"title":null},"y2":{"field":"y2"}}},
{"transform":[{"filter":"datum.k==='v'"}],"mark":{"type":"rule","color":"#333","strokeWidth":1.8},"encoding":{"x":{"datum":0,"type":"quantitative"},"x2":{"datum":369},"y":{"datum":0,"type":"quantitative","title":null}}},
{"transform":[{"filter":"datum.k==='v'"}],"mark":{"type":"rule","color":"#333","strokeWidth":1.8},"encoding":{"x":{"datum":0,"type":"quantitative"},"y":{"field":"y","type":"quantitative","title":null},"y2":{"field":"y2"}}},
{"transform":[{"filter":"datum.k==='v'"}],"mark":{"type":"point","shape":"triangle-right","filled":true,"color":"#111","size":100,"opacity":1},"encoding":{"x":{"datum":369,"type":"quantitative"},"y":{"datum":0,"type":"quantitative","title":null}}},
{"transform":[{"filter":"datum.k==='v'"}],"mark":{"type":"text","text":"ωt","font":"Liberation Serif","fontStyle":"italic","fontSize":28,"align":"right","baseline":"alphabetic","color":"#222"},"encoding":{"x":{"datum":374,"type":"quantitative"},"y":{"datum":-23,"type":"quantitative","title":null}}},
{"transform":[{"filter":"datum.k==='b'"}],"mark":{"type":"line","color":"#2f5ba8","strokeWidth":2.6},"encoding":{"x":{"field":"x","type":"quantitative"},"y":{"field":"y","type":"quantitative","title":null},"order":{"value":null}}}
]},
{"width":390,"height":210,"data":{"name":"c"},"transform":[{"filter":"datum.t===1"}],"layer":[
{"transform":[{"filter":"datum.k==='band'"}],"mark":{"type":"rect","color":"#f3d7e5"},"encoding":{"x":{"field":"x","type":"quantitative","scale":{"domain":[0,376],"nice":false,"zero":false}},"x2":{"field":"x2"},"y":{"field":"y","type":"quantitative","scale":{"domain":[-24,186],"nice":false,"zero":false},"axis":{"values":[0]},"title":null},"y2":{"field":"y2"}}},
{"transform":[{"filter":"datum.k==='v'"}],"mark":{"type":"rule","color":"#333","strokeWidth":1.8},"encoding":{"x":{"datum":0,"type":"quantitative"},"x2":{"datum":369},"y":{"datum":0,"type":"quantitative","title":null}}},
{"transform":[{"filter":"datum.k==='v'"}],"mark":{"type":"rule","color":"#333","strokeWidth":1.8},"encoding":{"x":{"datum":0,"type":"quantitative"},"y":{"field":"y","type":"quantitative","title":null},"y2":{"field":"y2"}}},
{"transform":[{"filter":"datum.k==='v'"}],"mark":{"type":"point","shape":"triangle-right","filled":true,"color":"#111","size":100,"opacity":1},"encoding":{"x":{"datum":369,"type":"quantitative"},"y":{"datum":0,"type":"quantitative","title":null}}},
{"transform":[{"filter":"datum.k==='v'"}],"mark":{"type":"point","shape":"triangle-up","filled":true,"color":"#111","size":100,"opacity":1},"encoding":{"x":{"datum":0,"type":"quantitative"},"y":{"field":"y","type":"quantitative","title":null}}},
{"transform":[{"filter":"datum.k==='v'"}],"mark":{"type":"text","text":"ωt","font":"Liberation Serif","fontStyle":"italic","fontSize":28,"align":"right","baseline":"alphabetic","color":"#222"},"encoding":{"x":{"datum":374,"type":"quantitative"},"y":{"datum":-23,"type":"quantitative","title":null}}},
{"transform":[{"filter":"datum.k==='b'"}],"mark":{"type":"line","color":"#2f5ba8","strokeWidth":2.6},"encoding":{"x":{"field":"x","type":"quantitative"},"y":{"field":"y","type":"quantitative","title":null},"order":{"value":null}}},
{"transform":[{"filter":"datum.k==='r'"}],"mark":{"type":"line","color":"#e2262c","strokeWidth":2.8,"interpolate":"monotone"},"encoding":{"x":{"field":"x","type":"quantitative"},"y":{"field":"y","type":"quantitative","title":null},"order":{"value":null}}}
]},
{"width":390,"height":210,"data":{"name":"d"},"transform":[{"filter":"datum.t===1"}],"layer":[
{"transform":[{"filter":"datum.k==='band'"}],"mark":{"type":"rect","color":"#f3d7e5"},"encoding":{"x":{"field":"x","type":"quantitative","scale":{"domain":[0,376],"nice":false,"zero":false}},"x2":{"field":"x2"},"y":{"field":"y","type":"quantitative","scale":{"domain":[-39,171],"nice":false,"zero":false},"axis":{"values":[0]},"title":null},"y2":{"field":"y2"}}},
{"transform":[{"filter":"datum.k==='v'"}],"mark":{"type":"rule","color":"#333","strokeWidth":1.8},"encoding":{"x":{"datum":0,"type":"quantitative"},"x2":{"datum":369},"y":{"datum":0,"type":"quantitative","title":null}}},
{"transform":[{"filter":"datum.k==='v'"}],"mark":{"type":"rule","color":"#333","strokeWidth":1.8},"encoding":{"x":{"datum":0,"type":"quantitative"},"y":{"field":"y","type":"quantitative","title":null},"y2":{"field":"y2"}}},
{"transform":[{"filter":"datum.k==='v'"}],"mark":{"type":"point","shape":"triangle-right","filled":true,"color":"#111","size":100,"opacity":1},"encoding":{"x":{"datum":369,"type":"quantitative"},"y":{"datum":0,"type":"quantitative","title":null}}},
{"transform":[{"filter":"datum.k==='v'"}],"mark":{"type":"point","shape":"triangle-up","filled":true,"color":"#111","size":100,"opacity":1},"encoding":{"x":{"datum":0,"type":"quantitative"},"y":{"field":"y","type":"quantitative","title":null}}},
{"transform":[{"filter":"datum.k==='v'"}],"mark":{"type":"text","text":"ωt","font":"Liberation Serif","fontStyle":"italic","fontSize":28,"align":"right","baseline":"alphabetic","color":"#222"},"encoding":{"x":{"datum":374,"type":"quantitative"},"y":{"datum":-23,"type":"quantitative","title":null}}},
{"transform":[{"filter":"datum.k==='b'"}],"mark":{"type":"line","color":"#2f5ba8","strokeWidth":2.6},"encoding":{"x":{"field":"x","type":"quantitative"},"y":{"field":"y","type":"quantitative","title":null},"order":{"value":null}}},
{"transform":[{"filter":"datum.k==='r'"}],"mark":{"type":"line","color":"#e2262c","strokeWidth":2.8,"interpolate":"monotone"},"encoding":{"x":{"field":"x","type":"quantitative"},"y":{"field":"y","type":"quantitative","title":null},"order":{"value":null}}}
]},
{"width":390,"height":73,"data":{"name":"c"},"transform":[{"filter":"datum.t===2"}],"layer":[
{"transform":[{"filter":"datum.k==='band'"}],"mark":{"type":"rect","color":"#f3d7e5"},"encoding":{"x":{"field":"x","type":"quantitative","scale":{"domain":[0,376],"nice":false,"zero":false}},"x2":{"field":"x2"},"y":{"field":"y","type":"quantitative","scale":{"domain":[-33,40],"nice":false,"zero":false},"axis":{"values":[0]},"title":null},"y2":{"field":"y2"}}},
{"transform":[{"filter":"datum.k==='v'"}],"mark":{"type":"rule","color":"#333","strokeWidth":1.8},"encoding":{"x":{"datum":0,"type":"quantitative"},"x2":{"datum":369},"y":{"datum":0,"type":"quantitative","title":null}}},
{"transform":[{"filter":"datum.k==='v'"}],"mark":{"type":"rule","color":"#333","strokeWidth":1.8},"encoding":{"x":{"datum":0,"type":"quantitative"},"y":{"field":"y","type":"quantitative","title":null},"y2":{"field":"y2"}}},
{"transform":[{"filter":"datum.k==='v'"}],"mark":{"type":"point","shape":"triangle-right","filled":true,"color":"#111","size":100,"opacity":1},"encoding":{"x":{"datum":369,"type":"quantitative"},"y":{"datum":0,"type":"quantitative","title":null}}},
{"transform":[{"filter":"datum.k==='v'"}],"mark":{"type":"text","text":"ωt","font":"Liberation Serif","fontStyle":"italic","fontSize":28,"align":"right","baseline":"alphabetic","color":"#222"},"encoding":{"x":{"datum":374,"type":"quantitative"},"y":{"datum":-23,"type":"quantitative","title":null}}},
{"transform":[{"filter":"datum.k==='b'"}],"mark":{"type":"line","color":"#2f5ba8","strokeWidth":2.6},"encoding":{"x":{"field":"x","type":"quantitative"},"y":{"field":"y","type":"quantitative","title":null},"order":{"value":null}}},
{"transform":[{"filter":"datum.k==='r'"}],"mark":{"type":"line","color":"#e2262c","strokeWidth":2.8,"interpolate":"monotone"},"encoding":{"x":{"field":"x","type":"quantitative"},"y":{"field":"y","type":"quantitative","title":null},"order":{"value":null}}}
]},
{"width":390,"height":73,"data":{"name":"d"},"transform":[{"filter":"datum.t===2"}],"layer":[
{"transform":[{"filter":"datum.k==='band'"}],"mark":{"type":"rect","color":"#f3d7e5"},"encoding":{"x":{"field":"x","type":"quantitative","scale":{"domain":[0,376],"nice":false,"zero":false}},"x2":{"field":"x2"},"y":{"field":"y","type":"quantitative","scale":{"domain":[-39,34],"nice":false,"zero":false},"axis":{"values":[0]},"title":null},"y2":{"field":"y2"}}},
{"transform":[{"filter":"datum.k==='v'"}],"mark":{"type":"rule","color":"#333","strokeWidth":1.8},"encoding":{"x":{"datum":0,"type":"quantitative"},"x2":{"datum":369},"y":{"datum":0,"type":"quantitative","title":null}}},
{"transform":[{"filter":"datum.k==='v'"}],"mark":{"type":"rule","color":"#333","strokeWidth":1.8},"encoding":{"x":{"datum":0,"type":"quantitative"},"y":{"field":"y","type":"quantitative","title":null},"y2":{"field":"y2"}}},
{"transform":[{"filter":"datum.k==='v'"}],"mark":{"type":"point","shape":"triangle-right","filled":true,"color":"#111","size":100,"opacity":1},"encoding":{"x":{"datum":369,"type":"quantitative"},"y":{"datum":0,"type":"quantitative","title":null}}},
{"transform":[{"filter":"datum.k==='v'"}],"mark":{"type":"text","text":"ωt","font":"Liberation Serif","fontStyle":"italic","fontSize":28,"align":"right","baseline":"alphabetic","color":"#222"},"encoding":{"x":{"datum":374,"type":"quantitative"},"y":{"datum":-23,"type":"quantitative","title":null}}},
{"transform":[{"filter":"datum.k==='b'"}],"mark":{"type":"line","color":"#2f5ba8","strokeWidth":2.6},"encoding":{"x":{"field":"x","type":"quantitative"},"y":{"field":"y","type":"quantitative","title":null},"order":{"value":null}}},
{"transform":[{"filter":"datum.k==='r'"}],"mark":{"type":"line","color":"#e2262c","strokeWidth":2.8,"interpolate":"monotone"},"encoding":{"x":{"field":"x","type":"quantitative"},"y":{"field":"y","type":"quantitative","title":null},"order":{"value":null}}}
]},
{"width":390,"height":65,"data":{"name":"c"},"transform":[{"filter":"datum.t===3"}],
"title":{"text":"(\u2005c\u2005)\u2005工\u2004\u200a作\u2004\u200a模\u2004\u200a式\u2004\u200a1\u2004\u200a互\u2004\u200a补\u2004\u200a区\u2004\u200a域\u2004\u200a增\u2004\u200a加","orient":"bottom","anchor":"start","frame":"group","offset":50,"dx":-52,"font":"Noto Sans CJK SC","fontSize":28,"fontWeight":"normal","color":"#222"},
"layer":[
{"transform":[{"filter":"datum.k==='band'"}],"mark":{"type":"rect","color":"#f3d7e5"},"encoding":{"x":{"field":"x","type":"quantitative","scale":{"domain":[0,376],"nice":false,"zero":false}},"x2":{"field":"x2"},"y":{"field":"y","type":"quantitative","scale":{"domain":[-29,36],"nice":false,"zero":false},"axis":{"values":[0]},"title":null},"y2":{"field":"y2"}}},
{"transform":[{"filter":"datum.k==='v'"}],"mark":{"type":"rule","color":"#333","strokeWidth":1.8},"encoding":{"x":{"datum":0,"type":"quantitative"},"x2":{"datum":369},"y":{"datum":0,"type":"quantitative","title":null}}},
{"transform":[{"filter":"datum.k==='v'"}],"mark":{"type":"rule","color":"#333","strokeWidth":1.8},"encoding":{"x":{"datum":0,"type":"quantitative"},"y":{"field":"y","type":"quantitative","title":null},"y2":{"field":"y2"}}},
{"transform":[{"filter":"datum.k==='v'"}],"mark":{"type":"point","shape":"triangle-right","filled":true,"color":"#111","size":100,"opacity":1},"encoding":{"x":{"datum":369,"type":"quantitative"},"y":{"datum":0,"type":"quantitative","title":null}}},
{"transform":[{"filter":"datum.k==='v'"}],"mark":{"type":"text","text":"ωt","font":"Liberation Serif","fontStyle":"italic","fontSize":28,"align":"right","baseline":"alphabetic","color":"#222"},"encoding":{"x":{"datum":374,"type":"quantitative"},"y":{"datum":-23,"type":"quantitative","title":null}}},
{"transform":[{"filter":"datum.k==='b'"}],"mark":{"type":"line","color":"#2f5ba8","strokeWidth":2.6},"encoding":{"x":{"field":"x","type":"quantitative"},"y":{"field":"y","type":"quantitative","title":null},"order":{"value":null}}}
]},
{"width":390,"height":65,"data":{"name":"d"},"transform":[{"filter":"datum.t===3"}],
"title":{"text":"(\u2005d\u2005)\u2005工\u2004\u2006作\u2004\u2006模\u2004\u2006式\u2004\u20062\u2004\u2006互\u2004\u2006补\u2004\u2006区\u2004\u2006域\u2004\u2006不\u2004\u2006变","orient":"bottom","anchor":"start","frame":"group","offset":50,"dx":-56,"font":"Noto Sans CJK SC","fontSize":28,"fontWeight":"normal","color":"#222"},
"layer":[
{"transform":[{"filter":"datum.k==='band'"}],"mark":{"type":"rect","color":"#f3d7e5"},"encoding":{"x":{"field":"x","type":"quantitative","scale":{"domain":[0,376],"nice":false,"zero":false}},"x2":{"field":"x2"},"y":{"field":"y","type":"quantitative","scale":{"domain":[-30,35],"nice":false,"zero":false},"axis":{"values":[0]},"title":null},"y2":{"field":"y2"}}},
{"transform":[{"filter":"datum.k==='v'"}],"mark":{"type":"rule","color":"#333","strokeWidth":1.8},"encoding":{"x":{"datum":0,"type":"quantitative"},"x2":{"datum":369},"y":{"datum":0,"type":"quantitative","title":null}}},
{"transform":[{"filter":"datum.k==='v'"}],"mark":{"type":"rule","color":"#333","strokeWidth":1.8},"encoding":{"x":{"datum":0,"type":"quantitative"},"y":{"field":"y","type":"quantitative","title":null},"y2":{"field":"y2"}}},
{"transform":[{"filter":"datum.k==='v'"}],"mark":{"type":"point","shape":"triangle-right","filled":true,"color":"#111","size":100,"opacity":1},"encoding":{"x":{"datum":369,"type":"quantitative"},"y":{"datum":0,"type":"quantitative","title":null}}},
{"transform":[{"filter":"datum.k==='v'"}],"mark":{"type":"text","text":"ωt","font":"Liberation Serif","fontStyle":"italic","fontSize":28,"align":"right","baseline":"alphabetic","color":"#222"},"encoding":{"x":{"datum":374,"type":"quantitative"},"y":{"datum":-23,"type":"quantitative","title":null}}},
{"transform":[{"filter":"datum.k==='b'"}],"mark":{"type":"line","color":"#2f5ba8","strokeWidth":2.6},"encoding":{"x":{"field":"x","type":"quantitative"},"y":{"field":"y","type":"quantitative","title":null},"order":{"value":null}}}
]},
{"width":390,"height":192,"data":{"name":"e"},"transform":[{"filter":"datum.t===1"}],"layer":[
{"transform":[{"filter":"datum.k==='band'"}],"mark":{"type":"rect","color":"#f3d7e5"},"encoding":{"x":{"field":"x","type":"quantitative","scale":{"domain":[0,376],"nice":false,"zero":false}},"x2":{"field":"x2"},"y":{"field":"y","type":"quantitative","scale":{"domain":[-35,157],"nice":false,"zero":false},"axis":{"values":[0]},"title":null},"y2":{"field":"y2"}}},
{"transform":[{"filter":"datum.k==='v'"}],"mark":{"type":"rule","color":"#333","strokeWidth":1.8},"encoding":{"x":{"datum":0,"type":"quantitative"},"x2":{"datum":369},"y":{"datum":0,"type":"quantitative","title":null}}},
{"transform":[{"filter":"datum.k==='v'"}],"mark":{"type":"rule","color":"#333","strokeWidth":1.8},"encoding":{"x":{"datum":0,"type":"quantitative"},"y":{"field":"y","type":"quantitative","title":null},"y2":{"field":"y2"}}},
{"transform":[{"filter":"datum.k==='v'"}],"mark":{"type":"point","shape":"triangle-right","filled":true,"color":"#111","size":100,"opacity":1},"encoding":{"x":{"datum":369,"type":"quantitative"},"y":{"datum":0,"type":"quantitative","title":null}}},
{"transform":[{"filter":"datum.k==='v'"}],"mark":{"type":"point","shape":"triangle-up","filled":true,"color":"#111","size":100,"opacity":1},"encoding":{"x":{"datum":0,"type":"quantitative"},"y":{"field":"y","type":"quantitative","title":null}}},
{"transform":[{"filter":"datum.k==='v'"}],"mark":{"type":"text","text":"ωt","font":"Liberation Serif","fontStyle":"italic","fontSize":28,"align":"right","baseline":"alphabetic","color":"#222"},"encoding":{"x":{"datum":374,"type":"quantitative"},"y":{"datum":-23,"type":"quantitative","title":null}}},
{"transform":[{"filter":"datum.k==='b'"}],"mark":{"type":"line","color":"#2f5ba8","strokeWidth":2.6},"encoding":{"x":{"field":"x","type":"quantitative"},"y":{"field":"y","type":"quantitative","title":null},"order":{"value":null}}},
{"transform":[{"filter":"datum.k==='r'"}],"mark":{"type":"line","color":"#e2262c","strokeWidth":2.8,"interpolate":"monotone"},"encoding":{"x":{"field":"x","type":"quantitative"},"y":{"field":"y","type":"quantitative","title":null},"order":{"value":null}}}
]},
{"width":390,"height":192,"data":{"name":"f"},"transform":[{"filter":"datum.t===1"}],"layer":[
{"transform":[{"filter":"datum.k==='band'"}],"mark":{"type":"rect","color":"#f3d7e5"},"encoding":{"x":{"field":"x","type":"quantitative","scale":{"domain":[0,376],"nice":false,"zero":false}},"x2":{"field":"x2"},"y":{"field":"y","type":"quantitative","scale":{"domain":[-35,157],"nice":false,"zero":false},"axis":{"values":[0]},"title":null},"y2":{"field":"y2"}}},
{"transform":[{"filter":"datum.k==='v'"}],"mark":{"type":"rule","color":"#333","strokeWidth":1.8},"encoding":{"x":{"datum":0,"type":"quantitative"},"x2":{"datum":369},"y":{"datum":0,"type":"quantitative","title":null}}},
{"transform":[{"filter":"datum.k==='v'"}],"mark":{"type":"rule","color":"#333","strokeWidth":1.8},"encoding":{"x":{"datum":0,"type":"quantitative"},"y":{"field":"y","type":"quantitative","title":null},"y2":{"field":"y2"}}},
{"transform":[{"filter":"datum.k==='v'"}],"mark":{"type":"point","shape":"triangle-right","filled":true,"color":"#111","size":100,"opacity":1},"encoding":{"x":{"datum":369,"type":"quantitative"},"y":{"datum":0,"type":"quantitative","title":null}}},
{"transform":[{"filter":"datum.k==='v'"}],"mark":{"type":"point","shape":"triangle-up","filled":true,"color":"#111","size":100,"opacity":1},"encoding":{"x":{"datum":0,"type":"quantitative"},"y":{"field":"y","type":"quantitative","title":null}}},
{"transform":[{"filter":"datum.k==='v'"}],"mark":{"type":"text","text":"ωt","font":"Liberation Serif","fontStyle":"italic","fontSize":28,"align":"right","baseline":"alphabetic","color":"#222"},"encoding":{"x":{"datum":374,"type":"quantitative"},"y":{"datum":-23,"type":"quantitative","title":null}}},
{"transform":[{"filter":"datum.k==='b'"}],"mark":{"type":"line","color":"#2f5ba8","strokeWidth":2.6},"encoding":{"x":{"field":"x","type":"quantitative"},"y":{"field":"y","type":"quantitative","title":null},"order":{"value":null}}},
{"transform":[{"filter":"datum.k==='r'"}],"mark":{"type":"line","color":"#e2262c","strokeWidth":2.8,"interpolate":"monotone"},"encoding":{"x":{"field":"x","type":"quantitative"},"y":{"field":"y","type":"quantitative","title":null},"order":{"value":null}}}
]},
{"width":390,"height":74,"data":{"name":"e"},"transform":[{"filter":"datum.t===2"}],"layer":[
{"transform":[{"filter":"datum.k==='band'"}],"mark":{"type":"rect","color":"#f3d7e5"},"encoding":{"x":{"field":"x","type":"quantitative","scale":{"domain":[0,376],"nice":false,"zero":false}},"x2":{"field":"x2"},"y":{"field":"y","type":"quantitative","scale":{"domain":[-38,36],"nice":false,"zero":false},"axis":{"values":[0]},"title":null},"y2":{"field":"y2"}}},
{"transform":[{"filter":"datum.k==='v'"}],"mark":{"type":"rule","color":"#333","strokeWidth":1.8},"encoding":{"x":{"datum":0,"type":"quantitative"},"x2":{"datum":369},"y":{"datum":0,"type":"quantitative","title":null}}},
{"transform":[{"filter":"datum.k==='v'"}],"mark":{"type":"rule","color":"#333","strokeWidth":1.8},"encoding":{"x":{"datum":0,"type":"quantitative"},"y":{"field":"y","type":"quantitative","title":null},"y2":{"field":"y2"}}},
{"transform":[{"filter":"datum.k==='v'"}],"mark":{"type":"point","shape":"triangle-right","filled":true,"color":"#111","size":100,"opacity":1},"encoding":{"x":{"datum":369,"type":"quantitative"},"y":{"datum":0,"type":"quantitative","title":null}}},
{"transform":[{"filter":"datum.k==='v'"}],"mark":{"type":"text","text":"ωt","font":"Liberation Serif","fontStyle":"italic","fontSize":28,"align":"right","baseline":"alphabetic","color":"#222"},"encoding":{"x":{"datum":374,"type":"quantitative"},"y":{"datum":-23,"type":"quantitative","title":null}}},
{"transform":[{"filter":"datum.k==='b'"}],"mark":{"type":"line","color":"#2f5ba8","strokeWidth":2.6},"encoding":{"x":{"field":"x","type":"quantitative"},"y":{"field":"y","type":"quantitative","title":null},"order":{"value":null}}},
{"transform":[{"filter":"datum.k==='r'"}],"mark":{"type":"line","color":"#e2262c","strokeWidth":2.8,"interpolate":"monotone"},"encoding":{"x":{"field":"x","type":"quantitative"},"y":{"field":"y","type":"quantitative","title":null},"order":{"value":null}}}
]},
{"width":390,"height":74,"data":{"name":"f"},"transform":[{"filter":"datum.t===2"}],"layer":[
{"transform":[{"filter":"datum.k==='band'"}],"mark":{"type":"rect","color":"#f3d7e5"},"encoding":{"x":{"field":"x","type":"quantitative","scale":{"domain":[0,376],"nice":false,"zero":false}},"x2":{"field":"x2"},"y":{"field":"y","type":"quantitative","scale":{"domain":[-38,36],"nice":false,"zero":false},"axis":{"values":[0]},"title":null},"y2":{"field":"y2"}}},
{"transform":[{"filter":"datum.k==='v'"}],"mark":{"type":"rule","color":"#333","strokeWidth":1.8},"encoding":{"x":{"datum":0,"type":"quantitative"},"x2":{"datum":369},"y":{"datum":0,"type":"quantitative","title":null}}},
{"transform":[{"filter":"datum.k==='v'"}],"mark":{"type":"rule","color":"#333","strokeWidth":1.8},"encoding":{"x":{"datum":0,"type":"quantitative"},"y":{"field":"y","type":"quantitative","title":null},"y2":{"field":"y2"}}},
{"transform":[{"filter":"datum.k==='v'"}],"mark":{"type":"point","shape":"triangle-right","filled":true,"color":"#111","size":100,"opacity":1},"encoding":{"x":{"datum":369,"type":"quantitative"},"y":{"datum":0,"type":"quantitative","title":null}}},
{"transform":[{"filter":"datum.k==='v'"}],"mark":{"type":"text","text":"ωt","font":"Liberation Serif","fontStyle":"italic","fontSize":28,"align":"right","baseline":"alphabetic","color":"#222"},"encoding":{"x":{"datum":374,"type":"quantitative"},"y":{"datum":-23,"type":"quantitative","title":null}}},
{"transform":[{"filter":"datum.k==='b'"}],"mark":{"type":"line","color":"#2f5ba8","strokeWidth":2.6},"encoding":{"x":{"field":"x","type":"quantitative"},"y":{"field":"y","type":"quantitative","title":null},"order":{"value":null}}},
{"transform":[{"filter":"datum.k==='r'"}],"mark":{"type":"line","color":"#e2262c","strokeWidth":2.8,"interpolate":"monotone"},"encoding":{"x":{"field":"x","type":"quantitative"},"y":{"field":"y","type":"quantitative","title":null},"order":{"value":null}}}
]},
{"width":390,"height":69,"data":{"name":"e"},"transform":[{"filter":"datum.t===3"}],
"title":{"text":"(\u2005e\u2005)\u2005工\u2004\u2006作\u2004\u2006模\u2004\u2006式\u2004\u20062\u2004\u2006互\u2004\u2006补\u2004\u2006区\u2004\u2006域\u2004\u2006减\u2004\u2006小","orient":"bottom","anchor":"start","frame":"group","offset":46,"dx":-52,"font":"Noto Sans CJK SC","fontSize":28,"fontWeight":"normal","color":"#222"},
"layer":[
{"transform":[{"filter":"datum.k==='band'"}],"mark":{"type":"rect","color":"#f3d7e5"},"encoding":{"x":{"field":"x","type":"quantitative","scale":{"domain":[0,376],"nice":false,"zero":false}},"x2":{"field":"x2"},"y":{"field":"y","type":"quantitative","scale":{"domain":[-30,39],"nice":false,"zero":false},"axis":{"values":[0]},"title":null},"y2":{"field":"y2"}}},
{"transform":[{"filter":"datum.k==='v'"}],"mark":{"type":"rule","color":"#333","strokeWidth":1.8},"encoding":{"x":{"datum":0,"type":"quantitative"},"x2":{"datum":369},"y":{"datum":0,"type":"quantitative","title":null}}},
{"transform":[{"filter":"datum.k==='v'"}],"mark":{"type":"rule","color":"#333","strokeWidth":1.8},"encoding":{"x":{"datum":0,"type":"quantitative"},"y":{"field":"y","type":"quantitative","title":null},"y2":{"field":"y2"}}},
{"transform":[{"filter":"datum.k==='v'"}],"mark":{"type":"point","shape":"triangle-right","filled":true,"color":"#111","size":100,"opacity":1},"encoding":{"x":{"datum":369,"type":"quantitative"},"y":{"datum":0,"type":"quantitative","title":null}}},
{"transform":[{"filter":"datum.k==='v'"}],"mark":{"type":"text","text":"ωt","font":"Liberation Serif","fontStyle":"italic","fontSize":28,"align":"right","baseline":"alphabetic","color":"#222"},"encoding":{"x":{"datum":374,"type":"quantitative"},"y":{"datum":-23,"type":"quantitative","title":null}}},
{"transform":[{"filter":"datum.k==='b'"}],"mark":{"type":"line","color":"#2f5ba8","strokeWidth":2.6},"encoding":{"x":{"field":"x","type":"quantitative"},"y":{"field":"y","type":"quantitative","title":null},"order":{"value":null}}}
]},
{"width":390,"height":69,"data":{"name":"f"},"transform":[{"filter":"datum.t===3"}],
"title":{"text":"(\u2005f\u2005)\u2005工\u2004\u200a作\u2004\u200a模\u2004\u200a式\u2004\u200a2\u2004\u200a互\u2004\u200a补\u2004\u200a区\u2004\u200a域\u2004\u200a增\u2004\u200a加","orient":"bottom","anchor":"start","frame":"group","offset":46,"dx":-49,"font":"Noto Sans CJK SC","fontSize":28,"fontWeight":"normal","color":"#222"},
"layer":[
{"transform":[{"filter":"datum.k==='band'"}],"mark":{"type":"rect","color":"#f3d7e5"},"encoding":{"x":{"field":"x","type":"quantitative","scale":{"domain":[0,376],"nice":false,"zero":false}},"x2":{"field":"x2"},"y":{"field":"y","type":"quantitative","scale":{"domain":[-30,39],"nice":false,"zero":false},"axis":{"values":[0]},"title":null},"y2":{"field":"y2"}}},
{"transform":[{"filter":"datum.k==='v'"}],"mark":{"type":"rule","color":"#333","strokeWidth":1.8},"encoding":{"x":{"datum":0,"type":"quantitative"},"x2":{"datum":369},"y":{"datum":0,"type":"quantitative","title":null}}},
{"transform":[{"filter":"datum.k==='v'"}],"mark":{"type":"rule","color":"#333","strokeWidth":1.8},"encoding":{"x":{"datum":0,"type":"quantitative"},"y":{"field":"y","type":"quantitative","title":null},"y2":{"field":"y2"}}},
{"transform":[{"filter":"datum.k==='v'"}],"mark":{"type":"point","shape":"triangle-right","filled":true,"color":"#111","size":100,"opacity":1},"encoding":{"x":{"datum":369,"type":"quantitative"},"y":{"datum":0,"type":"quantitative","title":null}}},
{"transform":[{"filter":"datum.k==='v'"}],"mark":{"type":"text","text":"ωt","font":"Liberation Serif","fontStyle":"italic","fontSize":28,"align":"right","baseline":"alphabetic","color":"#222"},"encoding":{"x":{"datum":374,"type":"quantitative"},"y":{"datum":-23,"type":"quantitative","title":null}}},
{"transform":[{"filter":"datum.k==='b'"}],"mark":{"type":"line","color":"#2f5ba8","strokeWidth":2.6},"encoding":{"x":{"field":"x","type":"quantitative"},"y":{"field":"y","type":"quantitative","title":null},"order":{"value":null}}}
]}
]
}
